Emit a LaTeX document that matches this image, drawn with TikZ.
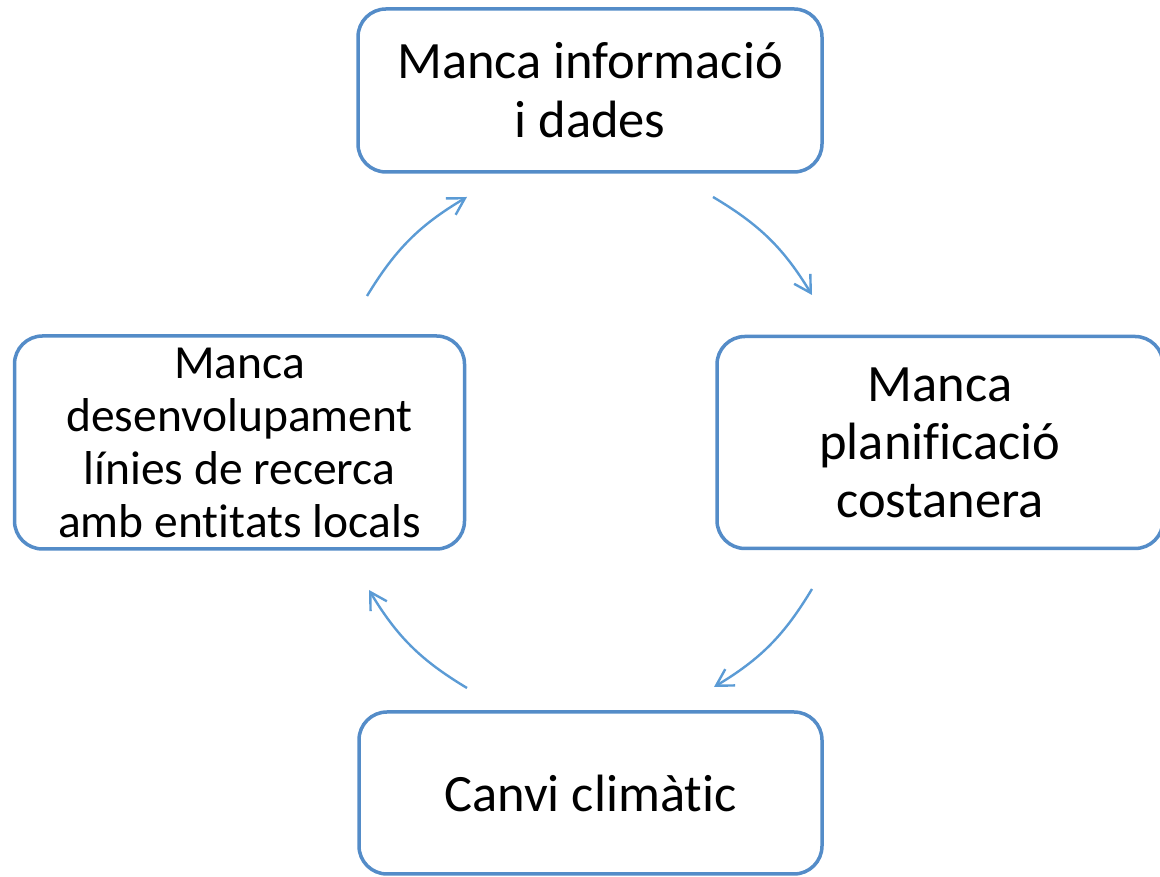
\documentclass[tikz,border=0pt]{standalone}
\usepackage{fontspec}
\setmainfont{Carlito}[Ligatures={NoCommon,NoContextual},RawFeature={-liga;-clig;-dlig}]
\usetikzlibrary{arrows.meta}
\definecolor{boxblue}{RGB}{84,140,200}
\definecolor{arrblue}{RGB}{91,155,213}
\tikzset{
  cyclebox/.style={draw=boxblue, line width=3.5pt, rounded corners=28pt, fill=white,
    align=center, inner sep=0pt},
  bigtxt/.style={font=\fontsize{52.5}{59}\selectfont},
  smalltxt/.style={font=\fontsize{47.5}{53}\selectfont},
  cyclearrow/.style={draw=arrblue, line width=2.4pt,
    -{Straight Barb[angle=60:19pt, line width=2.4pt]}, bend left=14}
}
\begin{document}
\begin{tikzpicture}[x=1pt,y=1pt]
\useasboundingbox (0,0) rectangle (1160,877);
\node[cyclebox, bigtxt, minimum width=464pt, minimum height=163pt] (top) at (590,786.5)
  {Manca informació\\i dades};
\node[cyclebox, bigtxt, minimum width=446pt, minimum height=212pt, font=\fontsize{52.5}{58}\selectfont] (right) at (940,434.5)
  {Manca\\planif\kern0pt icació\\costanera};
\node[cyclebox, smalltxt, minimum width=450pt, minimum height=213pt] (left) at (239.5,434.5)
  {Manca\\desenvolupament\\línies de recerca\\amb entit\kern0pt at\kern0pt s locals};
\node[cyclebox, bigtxt, minimum width=463pt, minimum height=162pt] (bottom) at (590.5,84)
  {Canvi climàtic};
\coordinate (a1s) at (367,581);
\coordinate (a1e) at (467,680);
\coordinate (a2s) at (713,680);
\coordinate (a2e) at (812,582);
\coordinate (a3s) at (812,288);
\coordinate (a3e) at (714,190);
\coordinate (a4s) at (467,189);
\coordinate (a4e) at (369,287);
\draw[cyclearrow] (a1s) to (a1e);
\draw[cyclearrow] (a2s) to (a2e);
\draw[cyclearrow] (a3s) to (a3e);
\draw[cyclearrow] (a4s) to (a4e);
\end{tikzpicture}
\end{document}
